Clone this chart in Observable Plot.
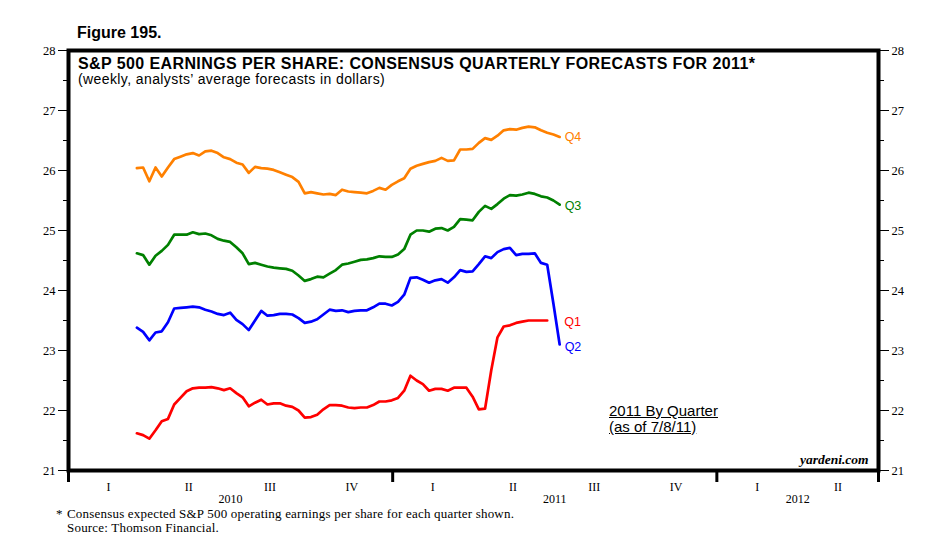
<!DOCTYPE html>
<html><head><meta charset="utf-8">
<script src="https://cdn.jsdelivr.net/npm/d3@7"></script>
<script src="https://cdn.jsdelivr.net/npm/@observablehq/plot@0.6"></script>
<style>
body{margin:0;background:#fff;}
#wrap{position:relative;width:942px;height:557px;overflow:hidden;background:#fff;}
#wrap svg{position:absolute;left:0;top:0;}
.t{position:absolute;white-space:nowrap;color:#000;line-height:1;}
.sans{font-family:"Liberation Sans",Arial,sans-serif;}
.serif{font-family:"Liberation Serif","Times New Roman",serif;}
</style></head><body>
<div id="wrap"></div>
<script>
// ---- data (weekly, first week 2010-03-19, last 2011-07-08) ----
const firstWeek = "2010-03-19";
const seriesNames = ["Q1", "Q2", "Q3", "Q4"];
const seriesColors = ["#ff0000", "#0000ff", "#008000", "#ff8000"];
const q1 = [21.62,21.59,21.53,21.67,21.82,21.86,22.10,22.21,22.32,22.37,22.38,22.38,22.39,22.37,22.34,22.37,22.29,22.22,22.07,22.13,22.18,22.10,22.12,22.12,22.08,22.06,22.00,21.88,21.89,21.93,22.02,22.09,22.09,22.08,22.05,22.04,22.05,22.05,22.09,22.15,22.15,22.17,22.21,22.33,22.58,22.50,22.44,22.33,22.36,22.36,22.33,22.38,22.38,22.38,22.23,22.02,22.03,22.67,23.22,23.40,23.42,23.46,23.48,23.50,23.50,23.50,23.50];
const q2 = [23.38,23.31,23.17,23.30,23.32,23.47,23.70,23.71,23.72,23.73,23.72,23.68,23.65,23.61,23.59,23.63,23.51,23.44,23.34,23.50,23.66,23.58,23.59,23.61,23.61,23.60,23.54,23.46,23.48,23.52,23.60,23.68,23.66,23.67,23.64,23.66,23.67,23.67,23.72,23.78,23.78,23.75,23.81,23.93,24.21,24.22,24.18,24.13,24.17,24.19,24.13,24.22,24.34,24.31,24.32,24.44,24.57,24.54,24.64,24.69,24.71,24.59,24.61,24.61,24.62,24.46,24.43,23.78,23.10];
const q3 = [24.62,24.59,24.43,24.58,24.66,24.76,24.93,24.93,24.93,24.97,24.94,24.95,24.92,24.86,24.83,24.81,24.72,24.62,24.44,24.46,24.43,24.40,24.38,24.37,24.36,24.33,24.25,24.16,24.19,24.23,24.22,24.28,24.34,24.43,24.45,24.48,24.51,24.52,24.54,24.57,24.56,24.56,24.60,24.69,24.93,25.00,25.00,24.98,25.03,25.04,25.00,25.06,25.19,25.18,25.17,25.31,25.41,25.36,25.44,25.53,25.59,25.58,25.60,25.63,25.61,25.57,25.55,25.50,25.43];
const q4 = [26.04,26.05,25.82,26.05,25.90,26.05,26.19,26.23,26.27,26.29,26.25,26.32,26.33,26.29,26.22,26.19,26.13,26.10,25.96,26.06,26.04,26.03,26.01,25.97,25.93,25.89,25.81,25.62,25.64,25.62,25.60,25.61,25.59,25.68,25.65,25.64,25.63,25.62,25.66,25.71,25.68,25.76,25.82,25.87,26.03,26.08,26.11,26.14,26.16,26.21,26.16,26.17,26.35,26.35,26.36,26.46,26.54,26.51,26.58,26.67,26.69,26.68,26.71,26.73,26.72,26.67,26.63,26.60,26.56];
const yTicks = [21, 22, 23, 24, 25, 26, 27, 28];
const quarterLabels = ["I", "II", "III", "IV"];
const yearLabels = [2010, 2011, 2012];

// ---- build tables ----
const t0 = new Date(firstWeek + "T00:00:00Z").getTime();
const WEEK = 7 * 864e5;
const allValues = [q1, q2, q3, q4];
const series = allValues.map((vals, k) => vals.map((v, i) => ({q: seriesNames[k], date: new Date(t0 + i * WEEK), v})));
const lastPoints = series.map(s => s[s.length - 1]);

const xStart = new Date(Date.UTC(2010, 0, 1));
const xEnd = new Date(Date.UTC(2012, 6, 1));
const quarterStarts = d3.utcMonth.every(3).range(xStart, xEnd);
const quarterMids = quarterStarts.map(d => new Date((d.getTime() + d3.utcMonth.offset(d, 3).getTime()) / 2));
const yearMids = yearLabels.map(y => {
  const a = new Date(Date.UTC(y, 0, 1));
  const b = new Date(Math.min(Date.UTC(y + 1, 0, 1), xEnd.getTime()));
  return new Date((a.getTime() + b.getTime()) / 2);
});
const yearBounds = [...yearLabels.map(y => new Date(Date.UTC(y, 0, 1))), xEnd];
const halfTicks = yTicks.slice(0, -1).map(v => v + 0.5);

const serifFont = "Liberation Serif, Times New Roman, serif";
const labelDx = [17, 5, 5, 5];
const labelDy = [1, 2, 1, 0];

const marks = [
  Plot.frame({stroke: "black", strokeWidth: 4}),
  // y axes: major and minor ticks on both sides
  Plot.axisY(yTicks, {anchor: "left", label: null, tickSize: 10, tickPadding: 3, tickFormat: d => String(d), fontFamily: serifFont, fontSize: 12.5}),
  Plot.axisY(halfTicks, {anchor: "left", label: null, tickSize: 5, tickFormat: () => ""}),
  Plot.axisY(yTicks, {anchor: "right", label: null, tickSize: 10, tickPadding: 3, tickFormat: d => String(d), fontFamily: serifFont, fontSize: 12.5}),
  Plot.axisY(halfTicks, {anchor: "right", label: null, tickSize: 5, tickFormat: () => ""}),
  // x axis: year dividers, quarter labels, year labels
  Plot.axisX(yearBounds, {anchor: "bottom", label: null, tickSize: 12, strokeWidth: 3, tickFormat: () => ""}),
  Plot.axisX(quarterMids, {anchor: "bottom", label: null, tickSize: 0, tickPadding: 12, tickFormat: d => quarterLabels[Math.floor(d.getUTCMonth() / 3)], fontFamily: serifFont, fontSize: 12}),
  Plot.axisX(yearMids, {anchor: "bottom", label: null, tickSize: 0, tickPadding: 24, tickFormat: d => String(d.getUTCFullYear()), fontFamily: serifFont, fontSize: 12}),
  ...series.map((s, k) => Plot.line(s, {x: "date", y: "v", stroke: seriesColors[k], strokeWidth: 2.7, curve: "linear"})),
  ...lastPoints.map((p, k) => Plot.text([p], {x: "date", y: "v", text: d => d.q, fill: seriesColors[k], dx: labelDx[k], dy: labelDy[k], textAnchor: "start", fontFamily: "Liberation Sans, Arial, sans-serif", fontSize: 12.5}))
];

const chart = Plot.plot({
  width: 942,
  height: 557,
  marginLeft: 68,
  marginRight: 64,
  marginTop: 50,
  marginBottom: 87,
  style: {background: "white", fontFamily: serifFont, fontSize: "12px", color: "black"},
  x: {type: "utc", domain: [xStart, xEnd], label: null},
  y: {domain: [21, 28], label: null},
  marks
});
const wrap = document.getElementById("wrap");
wrap.appendChild(chart);

// ---- text overlays ----
const texts = [
  {cls: "sans", style: "left:77px;top:25px;font-weight:bold;font-size:16px", txt: "Figure 195."},
  {cls: "sans", style: "left:78px;top:56px;font-weight:bold;font-size:16px;letter-spacing:0.4px", txt: "S&amp;P 500 EARNINGS PER SHARE: CONSENSUS QUARTERLY FORECASTS FOR 2011*"},
  {cls: "sans", style: "left:78px;top:72px;font-size:14px;letter-spacing:0.4px", txt: "(weekly, analysts’ average forecasts in dollars)"},
  {cls: "sans", style: "left:609px;top:403px;font-size:15px;text-decoration:underline", txt: "2011 By Quarter"},
  {cls: "sans", style: "left:609px;top:419px;font-size:15px;text-decoration:underline", txt: "(as of 7/8/11)"},
  {cls: "serif", style: "left:800px;top:453px;font-size:13.5px;font-weight:bold;font-style:italic", txt: "yardeni.com"},
  {cls: "serif", style: "left:56px;top:507px;font-size:13px", txt: "*"},
  {cls: "serif", style: "left:67px;top:507px;font-size:13px;letter-spacing:0.2px", txt: "Consensus expected S&amp;P 500 operating earnings per share for each quarter shown."},
  {cls: "serif", style: "left:67px;top:521px;font-size:13px;letter-spacing:0.2px", txt: "Source: Thomson Financial."}
];
for (const t of texts) {
  const el = document.createElement("div");
  el.className = "t " + t.cls;
  el.setAttribute("style", t.style);
  el.innerHTML = t.txt;
  wrap.appendChild(el);
}
</script>
</body></html>
